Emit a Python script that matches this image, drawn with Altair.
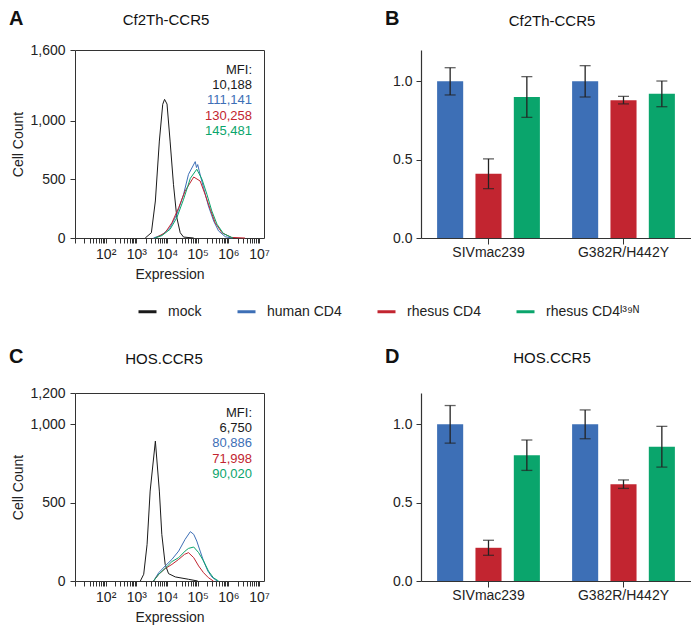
import altair as alt
import pandas as pd

FONT = "Liberation Sans"
INK = "#222222"
AXIS = "#333333"

series = ["mock", "human CD4", "rhesus CD4", "rhesus CD4ᴵ³⁹ᴺ"]
colors = ["#1a1a1a", "#3d6fb6", "#c22530", "#0aa56c"]

# ---------------- Panel A: Cf2Th-CCR5 flow histograms (log10 expression, cell count)
a_mock_log = [3.29, 3.49, 3.62, 3.75, 3.86, 3.92, 4.00, 4.10, 4.21, 4.32, 4.43, 4.54, 4.87]
a_mock_cnt = [0, 45, 315, 825, 1138, 1180, 1140, 825, 457, 173, 45, 8, 0]
a_human_log = [3.56, 3.83, 4.10, 4.32, 4.54, 4.70, 4.92, 4.96, 5.00, 5.05, 5.19, 5.35, 5.52, 5.68, 5.90, 6.11]
a_human_cnt = [0, 25, 88, 202, 372, 542, 650, 600, 625, 570, 428, 272, 145, 60, 11, 0]
a_rhesus_log = [3.62, 3.94, 4.16, 4.38, 4.59, 4.87, 5.08, 5.24, 5.41, 5.57, 5.79, 6.10, 6.54]
a_rhesus_cnt = [0, 45, 130, 258, 400, 519, 485, 372, 244, 130, 45, 5, 0]
a_i39n_log = [3.60, 3.83, 4.10, 4.32, 4.54, 4.76, 4.97, 5.14, 5.30, 5.46, 5.63, 5.84, 6.15]
a_i39n_cnt = [0, 20, 74, 173, 330, 508, 585, 500, 372, 230, 117, 37, 0]
a_mfi = ["10,188", "111,141", "130,258", "145,481"]
a_yticks = [0, 500, 1000, 1600]

# ---------------- Panel C: HOS.CCR5 flow histograms
c_mock_log = [3.13, 3.24, 3.35, 3.45, 3.62, 3.75, 3.83, 3.94, 4.05, 4.27, 4.70, 5.00]
c_mock_cnt = [0, 43, 234, 574, 893, 574, 298, 106, 47, 26, 11, 0]
c_human_log = [3.56, 3.73, 3.94, 4.16, 4.38, 4.59, 4.76, 4.87, 4.97, 5.08, 5.19, 5.33, 5.46, 5.63]
c_human_cnt = [0, 53, 96, 138, 191, 266, 315, 298, 255, 191, 128, 64, 26, 0]
c_rhesus_log = [3.56, 3.73, 3.94, 4.16, 4.38, 4.57, 4.70, 4.87, 5.03, 5.19, 5.35, 5.51]
c_rhesus_cnt = [0, 43, 79, 106, 138, 170, 181, 149, 96, 53, 21, 0]
c_i39n_log = [3.56, 3.73, 3.94, 4.16, 4.38, 4.59, 4.70, 4.87, 5.03, 5.19, 5.35, 5.51, 5.68]
c_i39n_cnt = [0, 43, 81, 124, 149, 191, 208, 217, 181, 128, 64, 21, 0]
c_mfi = ["6,750", "80,886", "71,998", "90,020"]
c_yticks = [0, 500, 1000, 1200]

# ---------------- Panels B / D: relative infection (bars) with error half-widths
groups = ["SIVmac239", "G382R/H442Y"]
b_human = [1.00, 1.00]
b_rhesus = [0.41, 0.88]
b_i39n = [0.90, 0.92]
b_human_err = [0.087, 0.100]
b_rhesus_err = [0.095, 0.024]
b_i39n_err = [0.130, 0.082]

d_human = [1.00, 1.00]
d_rhesus = [0.212, 0.618]
d_i39n = [0.803, 0.857]
d_human_err = [0.120, 0.092]
d_rhesus_err = [0.048, 0.027]
d_i39n_err = [0.097, 0.130]

color_scale = alt.Scale(domain=series, range=colors)

sup = {100: "10²", 1000: "10³", 10000: "10⁴", 100000: "10⁵", 1000000: "10⁶", 10000000: "10⁷"}
label_expr = " : ".join(f"datum.value == {k} ? '{v}'" for k, v in sup.items()) + " : ''"
xtick_values = [m * 10 ** d for d in range(1, 7) for m in range(1, 10)] + [10 ** 7]

HW, HH = 189, 188
BW, BH = 270, 188


def count_label_expr(values):
    return " : ".join(f"datum.value == {v} ? '{v:,}'" for v in values) + " : ''"


def annot(text, x, y, size, weight="normal", align="center", baseline="middle"):
    return alt.Chart(pd.DataFrame({"t": [text]})).mark_text(
        font=FONT, fontSize=size, fontWeight=weight, align=align, baseline=baseline, color="#111111"
    ).encode(text="t:N", x=alt.value(x), y=alt.value(y))


def hist_panel(letter, title, traces, mfi, ymax, yticks, letter_y, title_x, title_y, legend):
    rows = []
    for s, logs, cnts in traces:
        for l, c in zip(logs, cnts):
            rows.append({"series": s, "expr": 10 ** l, "count": c})
    df = pd.DataFrame(rows)
    xaxis = alt.Axis(values=xtick_values, labelExpr=label_expr, labelOverlap=False, labelFlush=False,
                     tickSize=5, labelPadding=4, title="Expression", titlePadding=6, domain=False)
    yaxis = alt.Axis(values=yticks, labelExpr=count_label_expr(yticks), tickSize=5, labelPadding=5,
                     title="Cell Count", titlePadding=4, domain=False, labelFlush=False,
                     labelOverlap=False)
    lines = alt.Chart(df).mark_line(strokeWidth=1).encode(
        x=alt.X("expr:Q", scale=alt.Scale(type="log", domain=[10, 1.45e7], nice=False), axis=xaxis),
        y=alt.Y("count:Q", scale=alt.Scale(domain=[0, ymax], nice=False), axis=yaxis),
        color=alt.Color("series:N", scale=color_scale, legend=legend),
    )
    layers = [lines, annot(letter, -66, letter_y, 20, "bold", "left", "top"),
              annot(title, title_x, title_y, 15)]
    texts = ["MFI:"] + mfi
    for i, (t, s) in enumerate(zip(texts, series[:1] + series)):
        layers.append(
            alt.Chart(pd.DataFrame({"t": [t], "series": [s]})).mark_text(
                font=FONT, fontSize=13, align="right", baseline="middle"
            ).encode(text="t:N", color=alt.Color("series:N", scale=color_scale, legend=None),
                     x=alt.value(177), y=alt.value(19.5 + 15.4 * i))
        )
    return alt.layer(*layers).properties(width=HW, height=HH,
                                         view=alt.ViewBackground(stroke=AXIS, strokeWidth=1))


def bar_panel(letter, title, means, errs, letter_y, title_y):
    rows = []
    for s, m, e in zip(series[1:], means, errs):
        for g, v, err in zip(groups, m, e):
            rows.append({"group": g, "series": s, "value": v, "lo": v - err, "hi": v + err})
    df = pd.DataFrame(rows)
    base = alt.Chart(df)
    x = alt.X("group:N", sort=groups, scale=alt.Scale(domain=groups, paddingInner=0, paddingOuter=0),
              axis=alt.Axis(title=None, labelAngle=0, tickSize=6, labelPadding=1))
    xo = alt.XOffset("series:N", sort=series[1:],
                     scale=alt.Scale(domain=series[1:], paddingInner=0.32, paddingOuter=0.42))
    yscale = alt.Scale(domain=[0, 1.2], nice=False)
    yaxis = alt.Axis(values=[0, 0.5, 1.0], format=".1f", title=None, tickSize=5, labelPadding=4)

    def yenc(f):
        return alt.Y(f, scale=yscale, axis=yaxis)

    bars = base.mark_bar().encode(x=x, xOffset=xo, y=yenc("value:Q"),
                                  color=alt.Color("series:N", scale=color_scale, legend=None))
    rule = base.mark_rule(color=INK, strokeWidth=1.3).encode(x=x, xOffset=xo, y=yenc("lo:Q"), y2="hi:Q")
    cap_lo = base.mark_tick(color=INK, thickness=1.3, size=11, orient="horizontal").encode(
        x=x, xOffset=xo, y=yenc("lo:Q"))
    cap_hi = base.mark_tick(color=INK, thickness=1.3, size=11, orient="horizontal").encode(
        x=x, xOffset=xo, y=yenc("hi:Q"))
    return alt.layer(bars, rule, cap_lo, cap_hi,
                     annot(letter, -36, letter_y, 20, "bold", "left", "top"),
                     annot(title, 131, title_y, 15)).properties(width=BW, height=BH)


legend = alt.Legend(orient="none", legendX=62, legendY=251, direction="horizontal", title=None,
                    symbolType="stroke", symbolSize=324, symbolStrokeWidth=3, labelFontSize=14,
                    labelFont=FONT, labelColor=INK, labelOffset=10, columnPadding=29, padding=0)

A = hist_panel("A", "Cf2Th-CCR5",
               [("mock", a_mock_log, a_mock_cnt), ("human CD4", a_human_log, a_human_cnt),
                ("rhesus CD4", a_rhesus_log, a_rhesus_cnt), (series[3], a_i39n_log, a_i39n_cnt)],
               a_mfi, 1600, a_yticks, -41, 91, -30, legend)
C = hist_panel("C", "HOS.CCR5",
               [("mock", c_mock_log, c_mock_cnt), ("human CD4", c_human_log, c_human_cnt),
                ("rhesus CD4", c_rhesus_log, c_rhesus_cnt), (series[3], c_i39n_log, c_i39n_cnt)],
               c_mfi, 1200, c_yticks, -46, 89, -34, None)
B = bar_panel("B", "Cf2Th-CCR5", [b_human, b_rhesus, b_i39n],
              [b_human_err, b_rhesus_err, b_i39n_err], -41, -29)
D = bar_panel("D", "HOS.CCR5", [d_human, d_rhesus, d_i39n],
              [d_human_err, d_rhesus_err, d_i39n_err], -46, -35)

chart = alt.concat(A, B, C, D, columns=2, spacing={"row": 155, "column": 157},
                   bounds="flush", align="each").resolve_scale(
    x="independent", y="independent", xOffset="independent"
).configure(font=FONT, padding=0).configure_view(stroke=None).configure_axis(
    grid=False, labelFont=FONT, titleFont=FONT, labelFontSize=14, titleFontSize=14,
    titleFontWeight="normal", labelColor=INK, titleColor=INK, domainColor=AXIS, tickColor=AXIS,
    domainWidth=1.2, tickWidth=1
)

chart.save("out.html", embed_options={"renderer": "svg", "actions": False})
